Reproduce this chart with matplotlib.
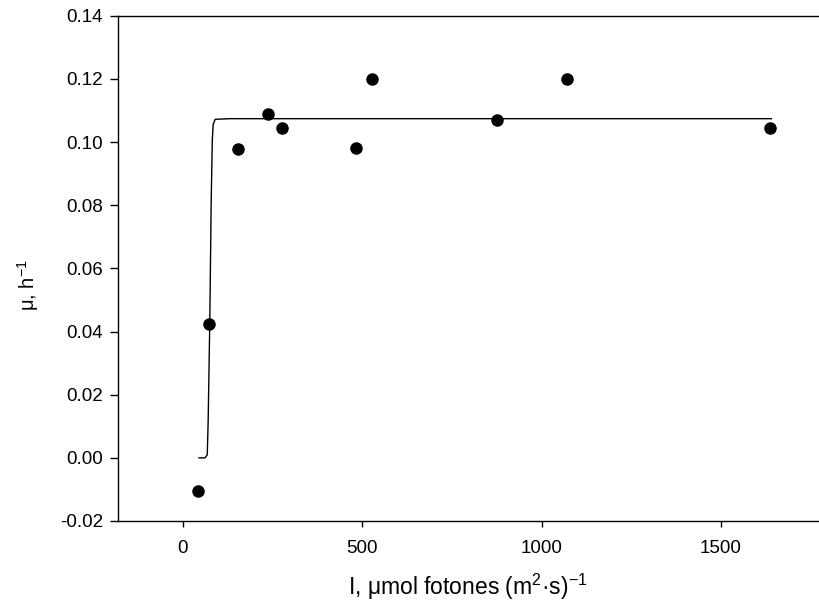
import numpy as np
import matplotlib
matplotlib.use('Agg')
import matplotlib.pyplot as plt

plt.rcParams['font.family'] = ['Liberation Sans', 'DejaVu Sans']
plt.rcParams['mathtext.fontset'] = 'custom'
plt.rcParams['mathtext.rm'] = 'Liberation Sans'
plt.rcParams['mathtext.it'] = 'Liberation Sans:italic'

# measured growth rate vs light intensity
light = [43, 73, 153, 236, 276, 483, 528, 877, 1072, 1638]
mu = [-0.0105, 0.0424, 0.0978, 0.1089, 0.1044, 0.098, 0.120, 0.107, 0.120, 0.1044]

# fitted curve
fit_I = [45, 62, 68, 70.5, 75, 79, 82, 84.5, 90, 132, 1641]
fit_mu = [0.0, 0.0, 0.001, 0.0117, 0.043, 0.0815, 0.1005, 0.1056, 0.1072, 0.1074, 0.1074]

xticks = [0, 500, 1000, 1500]
yticks = [-0.02, 0.00, 0.02, 0.04, 0.06, 0.08, 0.10, 0.12, 0.14]

fig = plt.figure(figsize=(8.2, 6.12), dpi=100)
ax = fig.add_axes([0.1443, 0.1487, 0.8533, 0.8256])

ax.plot(fit_I, fit_mu, color='black', lw=1.0)
ax.plot(light, mu, 'o', color='black', ms=8)

ax.set_xlim(-180, 1771)
ax.set_ylim(-0.02, 0.14)
ax.set_xticks(xticks)
ax.set_yticks(yticks)
ax.set_yticklabels(['%.2f' % v for v in yticks])

ax.spines['right'].set_visible(False)
for s in ['left', 'bottom', 'top']:
    ax.spines[s].set_linewidth(1.0)
ax.tick_params(direction='out', width=1.0, labelsize=13.5)
ax.tick_params(axis='x', length=4.5, pad=9)
ax.tick_params(axis='y', length=6, pad=5)

ax.set_xlabel(r'I, μmol fotones (m$^{2}$·s)$^{-1}$', fontsize=16.5)
ax.xaxis.set_label_coords(0.5, -0.1)
ax.set_ylabel(r'μ, h$^{-1}$', fontsize=14.5)
ax.yaxis.set_label_coords(-0.11, 0.467)

fig.savefig('out.png', dpi=100)
